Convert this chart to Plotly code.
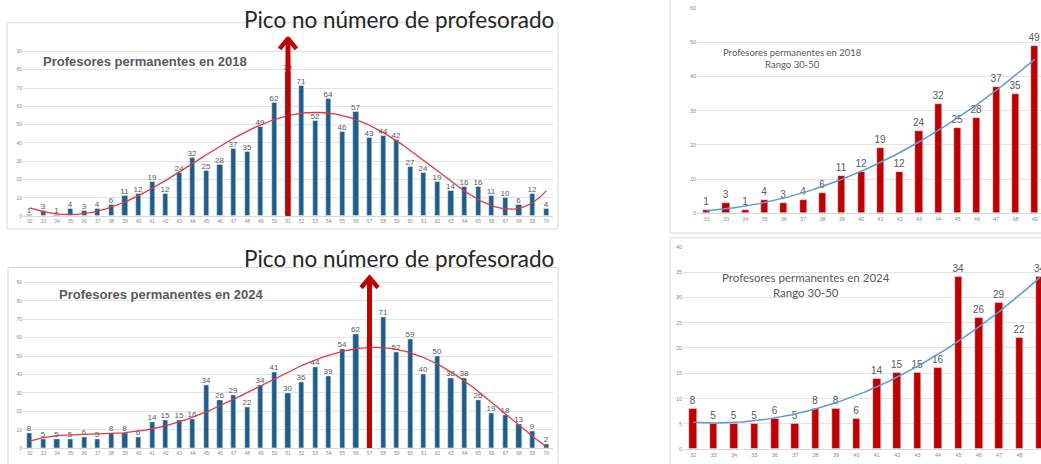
import numpy as np
import plotly.graph_objects as go

# ---------------- data ----------------
ages = list(range(32, 71))
prof_2018 = [1, 3, 1, 4, 3, 4, 6, 11, 12, 19, 12, 24, 32, 25, 28, 37, 35, 49, 62, 79,
             71, 52, 64, 46, 57, 43, 44, 42, 27, 24, 19, 14, 16, 16, 11, 10, 6, 12, 4]
prof_2024 = [8, 5, 5, 5, 6, 5, 8, 8, 6, 14, 15, 15, 16, 34, 26, 29, 22, 34, 41, 30,
             36, 44, 39, 54, 62, 60, 71, 52, 59, 40, 50, 38, 38, 26, 19, 18, 13, 9, 2]
range_ages = list(range(32, 50))
range_2018 = [1, 3, 1, 4, 3, 4, 6, 11, 12, 19, 12, 24, 32, 25, 28, 37, 35, 49]
range_2024 = [8, 5, 5, 5, 6, 5, 8, 8, 6, 14, 15, 15, 16, 34, 26, 29, 22, 34]
peak_2018 = 51
peak_2024 = 57
y_ticks_left = list(range(0, 100, 10))
y_ticks_r18 = list(range(0, 70, 10))
y_ticks_r24 = list(range(0, 45, 5))

title_peak = "Pico no número de profesorado"
title_2018 = "Profesores permanentes en 2018"
title_2024 = "Profesores permanentes en 2024"
subtitle = "Rango 30-50"

BLUE_BAR = "#1F5E8A"
RED_BAR = "#C00000"
RED_TREND = "#E0393E"
BLUE_TREND = "#5B9BD5"
ARROW = "#C00000"
LABEL = "#595959"
TICK = "#8C8C8C"
GRID = "#E3E3E3"


def trend(xs, ys, deg, lo, hi):
    xs = np.asarray(xs, float)
    c = xs.mean()
    s = xs.std()
    p = np.polyfit((xs - c) / s, np.asarray(ys, float), deg)
    xx = np.linspace(lo, hi, 300)
    return xx, np.polyval(p, (xx - c) / s)


fig = go.Figure()


def add_bars(x, y, color, width, xa, ya, fs, hide=None):
    txt = ["" if (hide is not None and a == hide) else str(v) for a, v in zip(x, y)]
    fig.add_trace(go.Bar(
        x=x, y=y, marker_color=color, width=width, xaxis=xa, yaxis=ya,
        text=txt, textposition="outside", constraintext="none",
        cliponaxis=False, textfont=dict(size=fs, color=LABEL, family="Liberation Sans"),
        showlegend=False, hoverinfo="x+y"))


def add_trend(x, y, deg, color, xa, ya, lo, hi, w):
    xx, yy = trend(x, y, deg, lo, hi)
    fig.add_trace(go.Scatter(x=xx, y=yy, mode="lines", line=dict(color=color, width=w),
                             xaxis=xa, yaxis=ya, showlegend=False, hoverinfo="skip"))


add_bars(ages, prof_2018, BLUE_BAR, 0.38, "x", "y", 8)
add_trend(ages, prof_2018, 5, RED_TREND, "x", "y", 32, 70, 1.3)
add_bars(ages, prof_2024, BLUE_BAR, 0.38, "x2", "y2", 8, hide=peak_2024)
add_trend(ages, prof_2024, 5, RED_TREND, "x2", "y2", 32, 70, 1.3)
add_bars(range_ages, range_2018, RED_BAR, 0.37, "x3", "y3", 10)
add_trend(range_ages, range_2018, 2, BLUE_TREND, "x3", "y3", 32, 49, 1.5)
add_bars(range_ages, range_2024, RED_BAR, 0.37, "x4", "y4", 10)
add_trend(range_ages, range_2024, 2, BLUE_TREND, "x4", "y4", 32, 49, 1.5)

W, H = 1041, 464


def px_x(v):
    return v / W


def px_y(v):
    return 1 - v / H


xcommon = dict(tickmode="array", showgrid=False, zeroline=False, showline=True,
               linecolor="#D9D9D9", linewidth=1, ticks="",
               tickfont=dict(size=5, color=TICK, family="Liberation Sans"))
ycommon = dict(tickmode="array", showgrid=True, gridcolor=GRID, gridwidth=1, zeroline=False,
               showline=False, ticks="", tickfont=dict(size=5, color=TICK, family="Liberation Sans"))

layout = dict(
    width=W, height=H, margin=dict(l=0, r=0, t=0, b=0),
    paper_bgcolor="white", plot_bgcolor="white", bargap=0, showlegend=False,
    xaxis=dict(xcommon, domain=[px_x(23), px_x(553)], range=[31.5, 70.5],
               tickvals=ages, ticktext=[str(a) for a in ages], anchor="y"),
    yaxis=dict(ycommon, domain=[px_y(216), px_y(34.2)], range=[0, 98],
               tickvals=y_ticks_left, anchor="x"),
    xaxis2=dict(xcommon, domain=[px_x(23), px_x(553)], range=[31.5, 70.5],
                tickvals=ages, ticktext=[str(a) for a in ages], anchor="y2"),
    yaxis2=dict(ycommon, domain=[px_y(451), px_y(273.7)], range=[0, 95],
                tickvals=y_ticks_left, anchor="x2"),
    xaxis3=dict(xcommon, domain=[px_x(697), 1.0], range=[31.5, 49.32],
                tickvals=range_ages, ticktext=[str(a) for a in range_ages], anchor="y3",
                tickfont=dict(size=5.5, color=TICK, family="Liberation Sans")),
    yaxis3=dict(ycommon, domain=[px_y(213), px_y(5)], range=[0, 60],
                tickvals=y_ticks_r18, anchor="x3",
                tickfont=dict(size=5.5, color=TICK, family="Liberation Sans")),
    xaxis4=dict(xcommon, domain=[px_x(683), 1.0], range=[31.5, 49.05],
                tickvals=range_ages, ticktext=[str(a) for a in range_ages], anchor="y4",
                tickfont=dict(size=5.5, color=TICK, family="Liberation Sans")),
    yaxis4=dict(ycommon, domain=[px_y(452), px_y(247)], range=[0, 40],
                tickvals=y_ticks_r24, anchor="x4",
                tickfont=dict(size=5.5, color=TICK, family="Liberation Sans")),
)
fig.update_layout(**layout)

shapes = []
# chart frames
for (x0, y0, x1, y1) in [(7, 20, 558, 229), (8, 268, 558, 475), (670, -5, 1050, 233), (670, 238, 1050, 475)]:
    shapes.append(dict(type="rect", xref="paper", yref="paper",
                       x0=px_x(x0), x1=px_x(x1), y0=px_y(y1), y1=px_y(y0),
                       line=dict(color="#D9D9D9", width=1), layer="below"))


def arrow(xa, ya, xpk, tip, hw, hh):
    shapes.append(dict(type="line", xref=xa, yref=ya, x0=xpk, x1=xpk, y0=0, y1=tip - 1.0,
                       line=dict(color=ARROW, width=5), layer="above"))
    shapes.append(dict(type="path", xref=xa, yref=ya,
                       path=f"M {xpk - hw},{tip - hh} L {xpk},{tip} L {xpk + hw},{tip - hh}",
                       line=dict(color=ARROW, width=4.5), layer="above"))


arrow("x", "y", peak_2018, 97.0, 0.62, 5.6)
arrow("x2", "y2", peak_2024, 92.5, 0.62, 5.4)
fig.update_layout(shapes=shapes)

ann = []
for yc in (16.5, 258.5):
    ann.append(dict(text=title_peak, xref="paper", yref="paper", x=px_x(399), y=px_y(yc),
                    showarrow=False, xanchor="center", yanchor="middle",
                    font=dict(size=22.5, color="#262626", family="Lato")))
ann.append(dict(text="<b>" + title_2018 + "</b>", xref="paper", yref="paper", x=px_x(145), y=px_y(59),
                showarrow=False, xanchor="center", yanchor="middle",
                font=dict(size=13, color=LABEL, family="Liberation Sans")))
ann.append(dict(text="<b>" + title_2024 + "</b>", xref="paper", yref="paper", x=px_x(161.5), y=px_y(295),
                showarrow=False, xanchor="center", yanchor="middle",
                font=dict(size=13, color=LABEL, family="Liberation Sans")))
ann.append(dict(text=title_2018 + "<br>" + subtitle, xref="paper", yref="paper", x=px_x(792), y=px_y(56),
                showarrow=False, xanchor="center", yanchor="middle",
                font=dict(size=9.5, color=LABEL, family="Lato")))
ann.append(dict(text=title_2024 + "<br>" + subtitle, xref="paper", yref="paper", x=px_x(806), y=px_y(286),
                showarrow=False, xanchor="center", yanchor="middle",
                font=dict(size=11.5, color=LABEL, family="Lato")))
fig.update_layout(annotations=ann)

fig.write_html("out.html", config={"displayModeBar": False},
               post_script="document.body.style.margin='0';document.body.style.overflow='hidden';")
